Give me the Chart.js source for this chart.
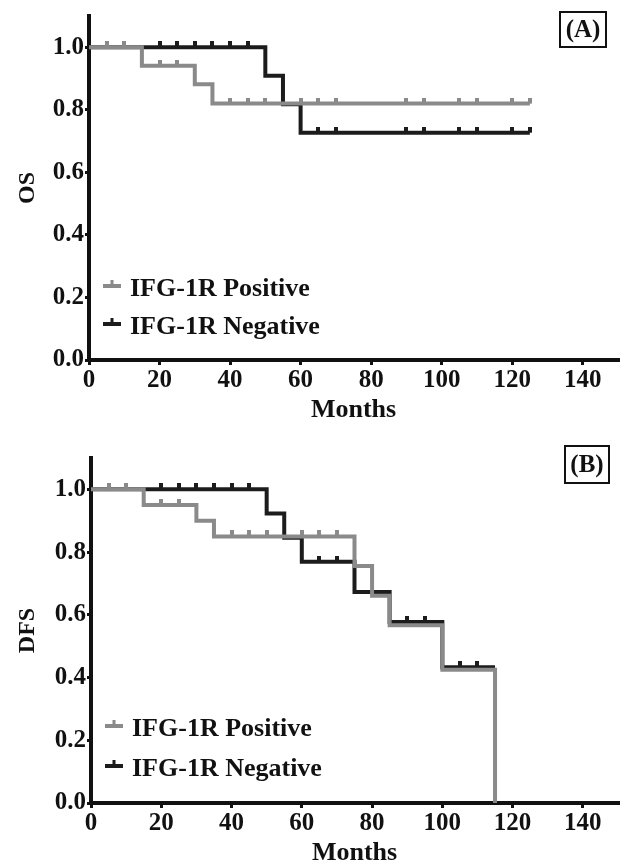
<!DOCTYPE html>
<html>
<head>
<meta charset="utf-8">
<script src="https://cdn.jsdelivr.net/npm/chart.js@4"></script>
<style>
  body { margin: 0; background: #fff; }
  .panel { position: relative; width: 623px; height: 433px; }
</style>
</head>
<body>
<div class="panel"><canvas id="os-chart"></canvas></div>
<div class="panel"><canvas id="dfs-chart"></canvas></div>
<script>
// tick labels
const monthTicks = [0, 20, 40, 60, 80, 100, 120, 140];
const survTicks = [0, 0.2, 0.4, 0.6, 0.8, 1.0];
const groups = ['IFG-1R Positive', 'IFG-1R Negative'];

// (A) overall survival: event times, survival after each step, censored times
const osPosTime = [0, 15, 30, 35, 125];
const osPosSurv = [1, 0.941, 0.882, 0.82, 0.82];
const osPosCens = [5, 10, 20, 25, 40, 45, 50, 60, 65, 70, 90, 95, 105, 110, 120, 125];
const osNegTime = [0, 50, 55, 60, 125];
const osNegSurv = [1, 0.909, 0.818, 0.727, 0.727];
const osNegCens = [20, 25, 30, 35, 40, 45, 65, 70, 90, 95, 105, 110, 120, 125];

// (B) disease free survival
const dfsPosTime = [0, 15, 30, 35, 75, 80, 85, 100, 115];
const dfsPosSurv = [1, 0.95, 0.90, 0.85, 0.756, 0.661, 0.567, 0.425, 0];
const dfsPosCens = [5, 10, 20, 25, 40, 45, 50, 60, 65, 70];
const dfsNegTime = [0, 50, 55, 60, 75, 85, 100, 115];
const dfsNegSurv = [1, 0.923, 0.846, 0.769, 0.673, 0.577, 0.433, 0.433];
const dfsNegCens = [20, 25, 30, 35, 40, 45, 65, 70, 90, 95, 105, 110];

const GRAY = '#8a8a8a';
const BLACK = '#1c1c1c';
const FONT = '"Liberation Serif", "Times New Roman", serif';

// little upward tick used for censored cases
function censorMark(color) {
  const c = document.createElement('canvas');
  c.width = 4; c.height = 12;
  const g = c.getContext('2d');
  g.fillStyle = color;
  g.fillRect(0, 0, 4, 6);
  return c;
}

function survAt(times, surv, t) {
  let s = surv[0];
  for (let i = 0; i < times.length; i++) if (times[i] <= t) s = surv[i];
  return s;
}

function curve(label, times, surv, color, order) {
  return {
    label: label,
    data: times.map((t, i) => ({ x: t, y: surv[i] })),
    borderColor: color,
    borderWidth: 4,
    stepped: 'before',
    pointRadius: 0,
    fill: false,
    borderCapStyle: 'butt',
    borderJoinStyle: 'miter',
    order: order
  };
}

function censors(times, surv, cens, color, order) {
  return {
    data: cens.map(t => ({ x: t, y: survAt(times, surv, t) })),
    showLine: false,
    pointStyle: censorMark(color),
    pointRadius: 3,
    order: order
  };
}

// legend inside plot + boxed panel letter
const kmDecor = {
  id: 'kmDecor',
  afterDraw(chart, args, opts) {
    const { ctx, chartArea: a } = chart;
    ctx.save();
    ctx.font = 'bold 26px ' + FONT;
    ctx.textBaseline = 'middle';
    ctx.textAlign = 'left';
    chart.data.datasets.filter(d => d.label).forEach((d, i) => {
      const y = a.bottom + opts.rows[i];
      ctx.fillStyle = d.borderColor;
      ctx.fillRect(a.left + 14, y - 2, 18, 4);
      ctx.fillRect(a.left + 21.5, y - 6, 3, 4);
      ctx.fillStyle = '#111';
      ctx.fillText(d.label, a.left + 41, y + 3);
    });
    const [bx, by, bw, bh] = opts.box;
    ctx.lineWidth = 2;
    ctx.strokeStyle = '#111';
    ctx.strokeRect(bx, by, bw, bh);
    ctx.font = 'bold 25px ' + FONT;
    ctx.textAlign = 'center';
    ctx.fillStyle = '#111';
    ctx.fillText(opts.label, bx + bw / 2, by + bh / 2 + 1);
    ctx.restore();
  }
};

function makeKM(id, cfg) {
  const ctx = document.getElementById(id);
  new Chart(ctx, {
    type: 'line',
    data: {
      datasets: [
        censors(cfg.posTime, cfg.posSurv, cfg.posCens, GRAY, 1),
        curve(groups[0], cfg.posTime, cfg.posSurv, GRAY, 2),
        censors(cfg.negTime, cfg.negSurv, cfg.negCens, BLACK, 3),
        curve(groups[1], cfg.negTime, cfg.negSurv, BLACK, 4)
      ]
    },
    options: {
      responsive: true,
      maintainAspectRatio: false,
      animation: false,
      layout: { padding: { top: cfg.top, right: cfg.right, left: 0, bottom: 0 } },
      plugins: {
        legend: { display: false },
        tooltip: { enabled: false },
        kmDecor: { rows: cfg.rows, label: cfg.label, box: cfg.box }
      },
      scales: {
        x: {
          type: 'linear',
          min: 0,
          max: 150,
          afterBuildTicks: s => { s.ticks = monthTicks.map(v => ({ value: v })); },
          afterFit: s => { s.height = cfg.xh; },
          ticks: {
            color: '#111',
            font: { family: FONT, size: 25, weight: 'bold' },
            padding: 1,
            maxRotation: 0,
            autoSkip: false,
            callback: v => String(v)
          },
          grid: { drawOnChartArea: false, color: '#111', lineWidth: 3, tickLength: 5 },
          border: { color: '#111', width: 4 },
          title: {
            display: true,
            text: 'Months',
            color: '#111',
            font: { family: FONT, size: 26, weight: 'bold', lineHeight: 1 },
            padding: { top: 0, bottom: cfg.tpad }
          }
        },
        y: {
          min: 0,
          max: 1.1,
          afterBuildTicks: s => { s.ticks = survTicks.map(v => ({ value: v })); },
          afterFit: s => { s.width = cfg.yw; },
          ticks: {
            color: '#111',
            font: { family: FONT, size: 25, weight: 'bold' },
            padding: 1,
            callback: v => v.toFixed(1)
          },
          grid: { drawOnChartArea: false, color: '#111', lineWidth: 3, tickLength: 4 },
          border: { color: '#111', width: 4 },
          title: {
            display: true,
            text: cfg.ytitle,
            color: '#111',
            font: { family: FONT, size: 24, weight: 'bold', lineHeight: 1 },
            padding: { top: 16, bottom: 0 }
          }
        }
      }
    },
    plugins: [kmDecor]
  });
}

makeKM('os-chart', {
  posTime: osPosTime, posSurv: osPosSurv, posCens: osPosCens,
  negTime: osNegTime, negSurv: osNegSurv, negCens: osNegCens,
  ytitle: 'OS', label: '(A)', box: [560, 12, 46, 35],
  rows: [-74, -36], top: 15, right: 5, yw: 89, xh: 73, tpad: 10
});

makeKM('dfs-chart', {
  posTime: dfsPosTime, posSurv: dfsPosSurv, posCens: dfsPosCens,
  negTime: dfsNegTime, negSurv: dfsNegSurv, negCens: dfsNegCens,
  ytitle: 'DFS', label: '(B)', box: [565, 13, 44, 37],
  rows: [-77, -37], top: 25, right: 0, yw: 91, xh: 63, tpad: 0
});
</script>
</body>
</html>
